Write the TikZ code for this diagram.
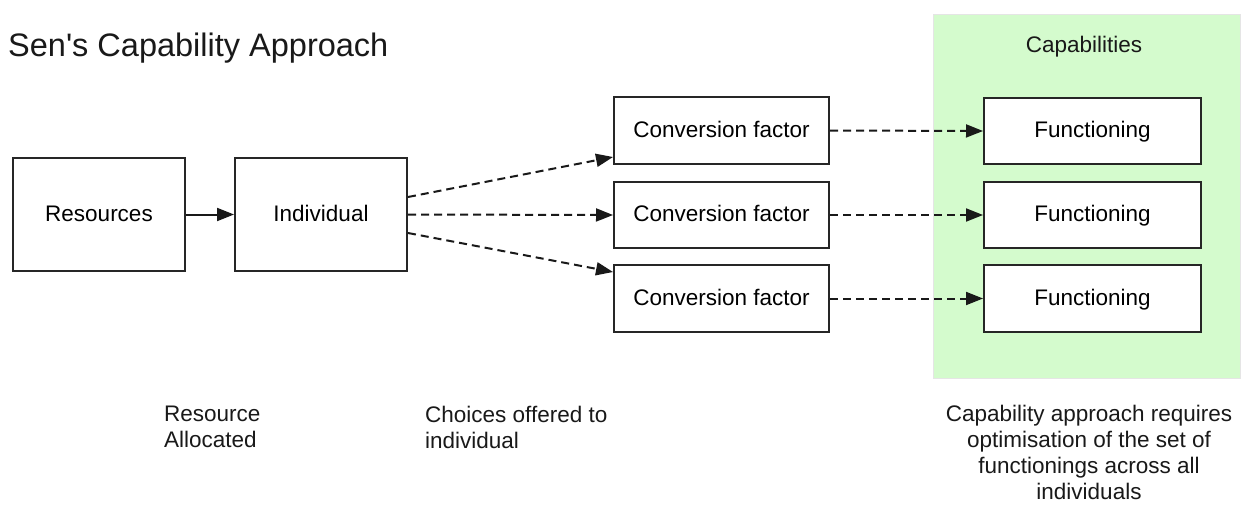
\documentclass[tikz,border=0pt]{standalone}
\usepackage{fontspec}
\setmainfont{Liberation Sans}
\newfontfamily\titlefont{Liberation Sans}
\usetikzlibrary{arrows.meta,calc}
\definecolor{capgreen}{RGB}{212,251,205}
\tikzset{
  box/.style={draw=black!85, line width=2pt, fill=white, rectangle, inner sep=0pt,
    font=\fontsize{22.5}{26}\selectfont, text height=15pt, text depth=2pt},
  bigbox/.style={box, minimum width=172pt, minimum height=113pt},
  convbox/.style={box, minimum width=215pt, minimum height=66.5pt},
  funcbox/.style={box, minimum width=217pt, minimum height=66.5pt},
  solidarrow/.style={line width=2pt, draw=black!90, -{Triangle[length=17pt,width=13pt]}},
  dasharrow/.style={solidarrow, dash pattern=on 8pt off 5pt},
  lbl/.style={inner sep=0pt, font=\fontsize{22.5}{26}\selectfont, text=black!90},
}
\begin{document}
\begin{tikzpicture}[x=1pt,y=-1pt]
\useasboundingbox (0,0) rectangle (1241,504);
\fill[white] (0,0) rectangle (1241,504);
% capabilities region
\filldraw[fill=capgreen, draw=black!10, line width=0.8pt] (933,14) rectangle (1240.5,378);
\node[lbl, anchor=base] (captitle) at (1084,52) {Capabilities};
% title
\node[lbl, anchor=base west, font=\titlefont\fontsize{32.5}{38}\selectfont] (title) at (8,56) {Sen's Capability Approach};
% main boxes
\node[bigbox] (res) at (99,214.5) {Resources};
\node[bigbox] (ind) at (321,214.5) {Individual};
\node[convbox] (c1) at (721.5,130.5) {Conversion factor};
\node[convbox] (c2) at (721.5,215) {Conversion factor};
\node[convbox] (c3) at (721.5,298.5) {Conversion factor};
\node[funcbox] (f1) at (1092.5,131) {Functioning};
\node[funcbox] (f2) at (1092.5,215) {Functioning};
\node[funcbox] (f3) at (1092.5,298.5) {Functioning};
% connectors
\draw[solidarrow] (res.east) -- (ind.west);
\draw[dasharrow] ($(ind.east)+(0,-17.5)$) -- ($(c1.west)+(0,26.5)$);
\draw[dasharrow] (ind.east) -- (c2.west);
\draw[dasharrow] ($(ind.east)+(0,18.5)$) -- ($(c3.west)+(0,-26.5)$);
\draw[dasharrow] (c1.east) -- (f1.west);
\draw[dasharrow] (c2.east) -- (f2.west);
\draw[dasharrow] (c3.east) -- (f3.west);
% bottom labels
\node[lbl, anchor=north west, align=left] (lres) at (164,406) {Resource\\Allocated};
\node[lbl, anchor=north west, align=left] (lcho) at (425,406) {Choices offered to\\individual};
\node[lbl, anchor=north, align=center] (lcap) at (1089,405) {Capability approach requires\\optimisation of the set of\\functionings across all\\individuals};
\end{tikzpicture}
\end{document}
